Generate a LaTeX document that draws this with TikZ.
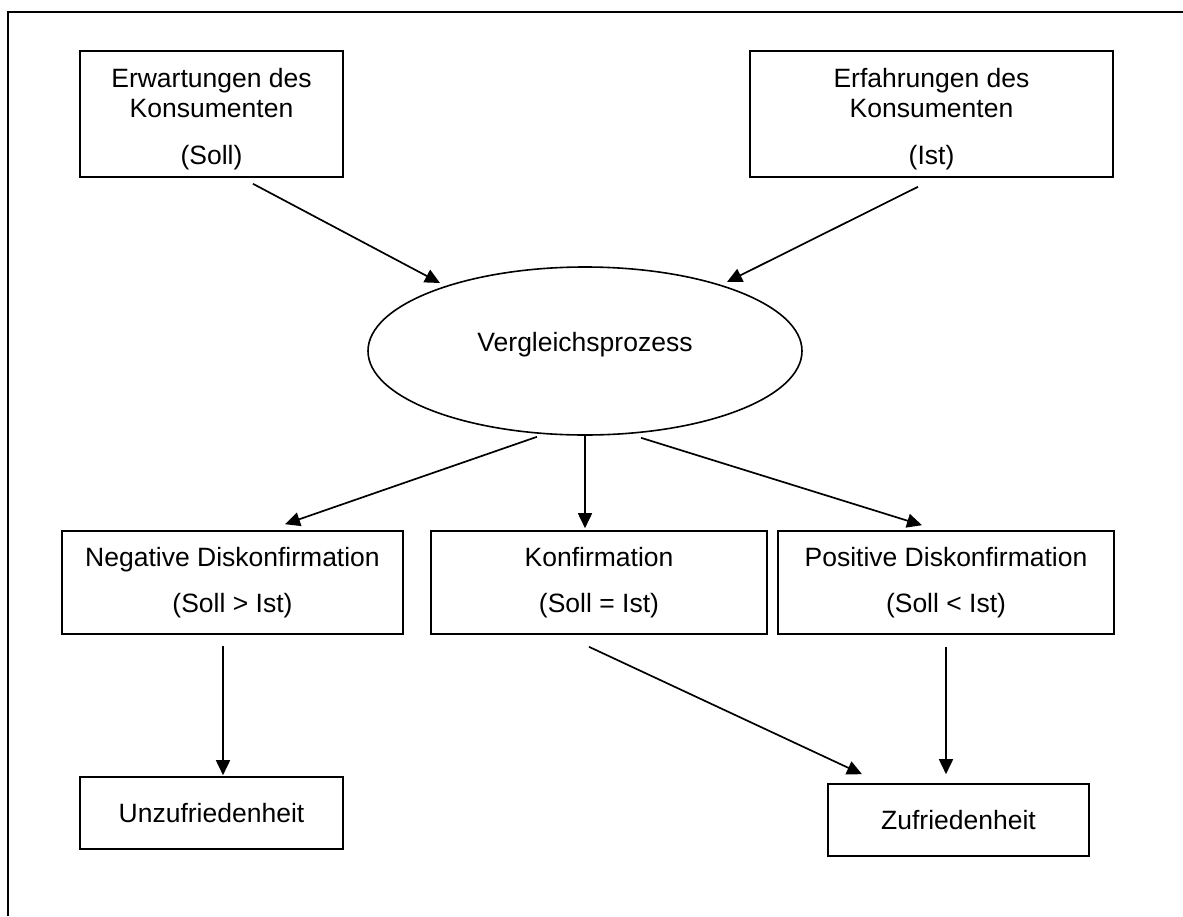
\documentclass[tikz,border=0pt]{standalone}
\usepackage{fontspec}
\setmainfont{Liberation Sans}
\usetikzlibrary{shapes.geometric,arrows.meta,calc}

\tikzset{
  box/.style={draw, line width=1.6pt, rectangle, inner sep=0pt, align=center,
              font=\fontsize{26.5}{30}\selectfont},
  oval/.style={draw, line width=1.6pt, ellipse, inner sep=0pt,
               font=\fontsize{26.5}{30}\selectfont},
  arr/.style={line width=1.7pt, -{Triangle[length=15pt,width=14pt]}},
  frame/.style={line width=2pt}
}
% strut that pushes the first text line a little lower
\newcommand{\topgap}{\rule{0pt}{29.5pt}}

\begin{document}
\begin{tikzpicture}[x=1pt, y=-1pt]
  \useasboundingbox (0,0) rectangle (1183,916);

  % page frame (top and left edges)
  \draw[frame] (8,916) -- (8,12) -- (1183,12);

  % inputs
  \node[box, minimum width=263pt, minimum height=126pt] (erw) at (211.5,114)
    {\topgap Erwartungen des\\Konsumenten\\[17pt](Soll)};
  \node[box, minimum width=363pt, minimum height=126pt] (erf) at (931.5,114)
    {\topgap Erfahrungen des\\Konsumenten\\[17pt](Ist)};

  % comparison
  \node[oval, minimum width=434pt, minimum height=168pt,
        text height=10pt, text depth=10pt] (vgl) at (585,351) {Vergleichsprozess};

  % outcomes of the comparison
  \node[box, minimum width=341pt, minimum height=103pt] (neg) at (232.5,582.5)
    {Negative Diskonfirmation\\[16pt](Soll > Ist)};
  \node[box, minimum width=336pt, minimum height=103pt] (konf) at (599,582.5)
    {Konfirmation\\[16pt](Soll = Ist)};
  \node[box, minimum width=336pt, minimum height=103pt] (pos) at (946,582.5)
    {Positive Diskonfirmation\\[16pt](Soll < Ist)};

  % results
  \node[box, minimum width=263pt, minimum height=72pt] (unz) at (211.5,813)
    {Unzufriedenheit};
  \node[box, minimum width=261pt, minimum height=72pt] (zuf) at (958.5,820)
    {Zufriedenheit};

  % connectors
  \draw[arr] ($(erw.south)+(41.5,6)$) -- ($(vgl.center)+(-145,-68)$);
  \draw[arr] ($(erf.south)+(-13.5,9)$) -- ($(vgl.center)+(142,-69)$);

  \draw[arr] ($(vgl.south)+(-48,1)$) -- ($(neg.north)+(52.5,-6)$);
  \draw[arr] (vgl.south) -- ($(konf.north)+(-14,-2)$);
  \draw[arr] ($(vgl.south)+(56,2)$) -- ($(pos.north)+(-24,-5)$);

  \draw[arr] ($(neg.south)+(-9.5,11)$) -- ($(unz.north)+(11.5,-1)$);
  \draw[arr] ($(konf.south)+(-10,12)$) -- ($(zuf.north)+(-96.5,-9)$);
  \draw[arr] ($(pos.south)+(0,12)$) -- ($(zuf.north)+(-12.5,-9)$);
\end{tikzpicture}
\end{document}
